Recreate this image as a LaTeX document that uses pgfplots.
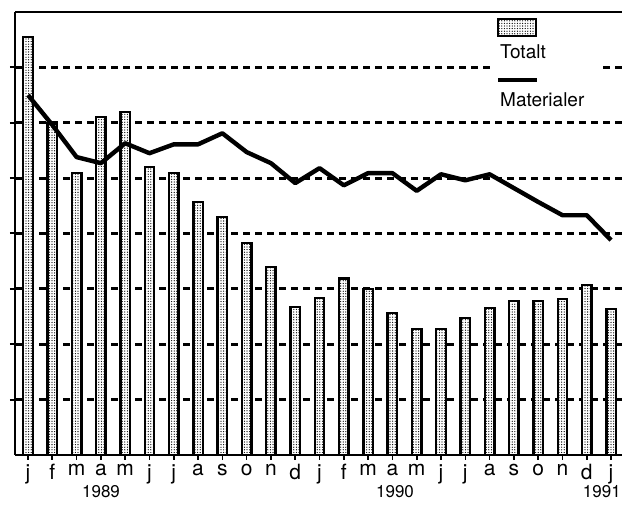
\documentclass[border=0pt]{standalone}
\usepackage{fontspec}
\setmainfont{TeX Gyre Heros}
\usepackage{pgfplots}
\pgfplotsset{compat=1.18}
\usetikzlibrary{patterns.meta}

\pgfplotstableread{
x totalt material
0  7.55 6.50
1  5.99 5.96
2  5.09 5.38
3  6.10 5.27
4  6.19 5.63
5  5.20 5.45
6  5.09 5.61
7  4.57 5.61
8  4.30 5.81
9  3.83 5.47
10 3.39 5.27
11 2.67 4.91
12 2.83 5.18
13 3.19 4.87
14 3.00 5.09
15 2.56 5.09
16 2.27 4.77
17 2.27 5.07
18 2.47 4.96
19 2.65 5.07
20 2.78 4.82
21 2.78 4.57
22 2.82 4.33
23 3.07 4.33
24 2.64 3.88
}\data

\tikzset{barfill/.style={fill=white, postaction={pattern={Dots[distance=2.6pt, radius=0.65pt]}, pattern color=black}}}

\begin{document}
\begin{tikzpicture}
\begin{axis}[
  scale only axis,
  width=607pt, height=443pt,
  xmin=-0.535, xmax=24.45,
  ymin=0, ymax=8,
  axis x line=box, axis y line=left,
  axis line style={-, line width=2.8pt},
  xtick=data, xtick pos=bottom,
  xticklabels={j,f,m,a,m,j,j,a,s,o,n,d,j,f,m,a,m,j,j,a,s,o,n,d,j},
  xticklabel style={font=\fontsize{21}{21}\selectfont, yshift=-1pt},
  ytick={1,...,7}, yticklabels={}, ytick pos=left,
  tick align=outside,
  x tick style={line width=1.6pt, black},
  y tick style={line width=2pt, black},
  major tick length=5pt,
  ymajorgrids,
  grid style={black, line width=2.8pt, dash pattern=on 7pt off 5pt},
  clip=false,
]
\addplot[ybar, bar width=9.5pt, draw=black, line width=2.4pt, barfill]
  table[x=x, y=totalt] {\data};
\addplot[black, line width=4.4pt, line join=round, mark=none]
  table[x=x, y=material] {\data};
\coordinate (tl) at (rel axis cs:0,1);
\end{axis}
\begin{scope}[shift={(tl)}, x=1pt, y=-1pt, shift={(-15,-12)}]
  % legend
  \fill[white] (490,16) rectangle (600,115);
  \draw[line width=2pt, barfill] (498,19) rectangle (536,36);
  \node[anchor=base west, inner sep=0pt, font=\fontsize{19}{19}\selectfont] at (500,59) {Totalt};
  \draw[line width=4pt] (498,80) -- (537,80);
  \node[anchor=base west, inner sep=0pt, font=\fontsize{19}{19}\selectfont] at (500,107) {Materialer};
  % years
  \node[anchor=base, inner sep=0pt, font=\fontsize{17}{17}\selectfont] at (101,497) {1989};
  \node[anchor=base, inner sep=0pt, font=\fontsize{17}{17}\selectfont] at (395,497) {1990};
  \node[anchor=base east, inner sep=0pt, font=\fontsize{17}{17}\selectfont] at (621,497) {1991};
  \pgfresetboundingbox
  \path (0,0) rectangle (622,507);
\end{scope}
\end{tikzpicture}
\end{document}
